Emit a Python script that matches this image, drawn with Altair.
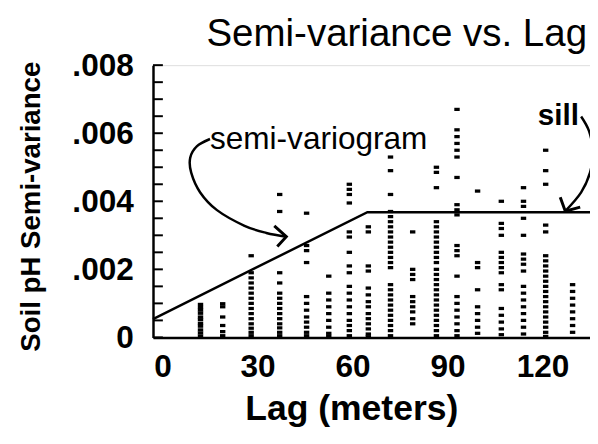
import altair as alt
import pandas as pd

# ---- data (semi-variance in units of 1e-3) ----
lags = [12, 19, 28, 37, 45.5, 52.5, 59, 65, 72, 79, 86.5, 93, 99.5, 107, 114, 121, 129.5]
col_01 = [0.04, 0.13, 0.22, 0.33, 0.41, 0.52, 0.6, 0.71, 0.8, 0.88, 0.97]
col_02 = [0.05, 0.17, 0.35, 0.6, 0.9, 0.99]
col_03 = [2.4, 1.9, 1.75, 1.6, 1.45, 1.3, 1.15, 1.0, 0.85, 0.7, 0.55, 0.4, 0.27, 0.15, 0.05]
col_04 = [4.2, 3.7, 1.9, 1.6, 1.3, 1.15, 1.0, 0.85, 0.7, 0.55, 0.4, 0.28, 0.15, 0.05]
col_05 = [3.65, 2.7, 2.55, 2.2, 1.2, 1.0, 0.8, 0.6, 0.45, 0.3, 0.15, 0.05]
col_06 = [1.8, 1.3, 1.1, 0.9, 0.7, 0.5, 0.3, 0.12, 0.03]
col_07 = [4.5, 4.35, 4.2, 3.95, 3.1, 2.95, 2.5, 2.1, 1.9, 1.5, 1.3, 1.1, 0.9, 0.7, 0.5, 0.35, 0.2, 0.05]
col_08 = [3.25, 3.1, 2.1, 1.95, 1.45, 1.25, 1.05, 0.9, 0.7, 0.55, 0.4, 0.25, 0.1, 0.02]
col_09 = [5.3, 4.9, 4.2, 3.7, 3.55, 3.4, 3.25, 3.1, 2.95, 2.8, 2.65, 2.5, 2.35, 2.2, 2.05,
          1.55, 1.4, 1.25, 1.1, 0.95, 0.8, 0.65, 0.5, 0.35, 0.2, 0.05]
col_10 = [3.1, 2.0, 1.85, 1.7, 1.2, 1.05, 0.9, 0.75, 0.55, 0.4]
col_11 = [5.0, 4.85, 4.4, 3.4, 3.25, 3.1, 2.95, 2.8, 2.65, 2.5, 2.35, 2.2, 2.0, 1.85, 1.7,
          1.55, 1.4, 1.25, 1.1, 0.95, 0.8, 0.65, 0.5, 0.35, 0.2, 0.05]
col_12 = [6.7, 6.1, 5.9, 5.7, 5.5, 5.3, 4.7, 3.9, 3.75, 3.6, 2.7, 2.55, 2.4, 1.8, 1.2, 1.0,
          0.8, 0.6, 0.4, 0.2, 0.05]
col_13 = [4.3, 2.2, 2.05, 1.4, 0.9, 0.7, 0.5, 0.3, 0.12]
col_14 = [4.0, 3.35, 3.2, 3.0, 2.5, 2.35, 2.2, 2.05, 1.9, 1.55, 1.4, 0.85, 0.65, 0.45, 0.25, 0.08]
col_15 = [4.4, 4.0, 3.85, 3.5, 3.0, 2.45, 2.3, 2.15, 1.95, 1.5, 1.3, 1.1, 0.9, 0.7, 0.5, 0.3, 0.1]
col_16 = [5.5, 4.9, 4.5, 3.3, 3.1, 2.4, 2.25, 2.1, 1.95, 1.8, 1.65, 1.5, 1.35, 1.2, 1.05,
          0.9, 0.75, 0.6, 0.45, 0.3, 0.15, 0.03]
col_17 = [1.55, 1.35, 1.15, 0.95, 0.75, 0.55, 0.35, 0.15]
columns = [col_01, col_02, col_03, col_04, col_05, col_06, col_07, col_08, col_09,
           col_10, col_11, col_12, col_13, col_14, col_15, col_16, col_17]

# fitted model (linear with sill)
model_lag = [-3, 64.7, 135]
model_gamma = [0.00054, 0.00368, 0.00368]

# y-axis inner ticks
y_ticks = [0, 0.0005, 0.001, 0.0015, 0.002, 0.0025, 0.003, 0.0035, 0.004,
           0.0045, 0.005, 0.0055, 0.006, 0.0065, 0.007, 0.0075, 0.008]
y_labels = [0, 0.002, 0.004, 0.006, 0.008]
x_labels = [0, 30, 60, 90, 120]

# annotation arrows (lag, semi-variance)
arrow1_lag = [15.0, 10.9, 8.75, 9.06, 11.9, 17.2, 25.9, 32.8, 39.1]
arrow1_gam = [0.00583, 0.00562, 0.00528, 0.00484, 0.00426, 0.00374, 0.00328, 0.00307, 0.00296]
head1_lag = [35.3, 39.1, 36.25]
head1_gam = [0.00328, 0.00296, 0.00267]
arrow2_lag = [132.2, 134.7, 135.9, 135.0, 132.2, 127.2]
arrow2_gam = [0.00649, 0.00606, 0.00548, 0.00484, 0.00426, 0.00371]
head2_lag = [125.6, 127.2, 131.9]
head2_gam = [0.00412, 0.00371, 0.00383]

FONT = "Liberation Sans"

rows = [{"lag": l, "gamma": v / 1000.0} for l, col in zip(lags, columns) for v in col]
pts = pd.DataFrame(rows)
model = pd.DataFrame({"lag": model_lag, "gamma": model_gamma})
ticks = pd.DataFrame({"gamma": y_ticks})

curves = []
for name, xs_, ys_ in [("a1", arrow1_lag, arrow1_gam), ("a2", arrow2_lag, arrow2_gam)]:
    for i, (a, b) in enumerate(zip(xs_, ys_)):
        curves.append({"k": name, "i": i, "lag": a, "gamma": b})
curves = pd.DataFrame(curves)
heads = []
for name, xs_, ys_ in [("h1", head1_lag, head1_gam), ("h2", head2_lag, head2_gam)]:
    for i, (a, b) in enumerate(zip(xs_, ys_)):
        heads.append({"k": name, "i": i, "lag": a, "gamma": b})
heads = pd.DataFrame(heads)

lab1 = pd.DataFrame({"lag": [15.0], "gamma": [0.00583], "t": ["semi-variogram"]})
lab2 = pd.DataFrame({"lag": [125.0], "gamma": [0.0065], "t": ["sill"]})
ttl = pd.DataFrame({"t": ["Semi-variance vs. Lag"]})

xs = alt.Scale(domain=[-3, 135], nice=False, zero=False)
ys = alt.Scale(domain=[0, 0.008], nice=False)

x_axis = alt.Axis(values=x_labels, title="Lag (meters)", ticks=False, tickSize=0,
                  grid=False, domainColor="black", domainWidth=2.5,
                  labelFont=FONT, labelFontSize=32, labelFontWeight="bold",
                  labelColor="black", labelPadding=15, labelFlush=False,
                  titleFont=FONT, titleFontSize=36, titleFontWeight="bold",
                  titleColor="black", titleX=201, titleY=72, titleBaseline="middle")
y_axis = alt.Axis(values=y_labels, title="Soil pH Semi-variance", ticks=False,
                  tickSize=0, grid=False, domainColor="black", domainWidth=2.5,
                  labelFont=FONT, labelFontSize=32, labelFontWeight="bold",
                  labelColor="black", labelPadding=20, labelFlush=False,
                  labelExpr="datum.value == 0 ? '0' : slice(format(datum.value, '.3f'), 1)",
                  titleFont=FONT, titleFontSize=28, titleFontWeight="bold",
                  titleColor="black", titleX=-123, titleY=143,
                  titleBaseline="middle", titleAlign="center")

base_pts = alt.Chart(pts).mark_point(shape="M-1,-0.6L1,-0.6L1,0.6L-1,0.6Z", filled=True,
                                     size=30, color="black", opacity=1).encode(
    x=alt.X("lag:Q", scale=xs, axis=x_axis),
    y=alt.Y("gamma:Q", scale=ys, axis=y_axis),
)

model_line = alt.Chart(model).mark_line(color="black", strokeWidth=2.5).encode(
    x=alt.X("lag:Q", scale=xs), y=alt.Y("gamma:Q", scale=ys))

tick_marks = alt.Chart(ticks).mark_rule(color="black", strokeWidth=2).encode(
    y=alt.Y("gamma:Q", scale=ys), x=alt.value(0), x2=alt.value(10))

curve_lines = alt.Chart(curves).mark_line(color="black", strokeWidth=2.5,
                                          interpolate="cardinal").encode(
    x=alt.X("lag:Q", scale=xs), y=alt.Y("gamma:Q", scale=ys),
    detail="k:N", order="i:Q")

head_lines = alt.Chart(heads).mark_line(color="black", strokeWidth=3).encode(
    x=alt.X("lag:Q", scale=xs), y=alt.Y("gamma:Q", scale=ys),
    detail="k:N", order="i:Q")

text1 = alt.Chart(lab1).mark_text(
    font=FONT, fontSize=32, fontWeight="normal", align="left", baseline="middle",
    color="black").encode(x=alt.X("lag:Q", scale=xs), y=alt.Y("gamma:Q", scale=ys), text="t:N")
text2 = alt.Chart(lab2).mark_text(
    font=FONT, fontSize=30, fontWeight="bold", align="center", baseline="middle",
    color="black").encode(x=alt.X("lag:Q", scale=xs), y=alt.Y("gamma:Q", scale=ys), text="t:N")

title_text = alt.Chart(ttl).mark_text(
    font=FONT, fontSize=39, fontWeight="normal", align="right", baseline="alphabetic",
    color="black").encode(x=alt.value(440), y=alt.value(-19), text="t:N")

chart = alt.layer(base_pts, tick_marks, model_line, curve_lines, head_lines,
                  text1, text2, title_text).properties(
    width=443, height=276,
    autosize=alt.AutoSizeParams(type="none"),
    padding={"left": 147, "top": 55, "right": 0, "bottom": 97},
).configure_view(stroke=None).configure(background="white")

chart.save("out.html", embed_options={"renderer": "svg", "actions": False})
